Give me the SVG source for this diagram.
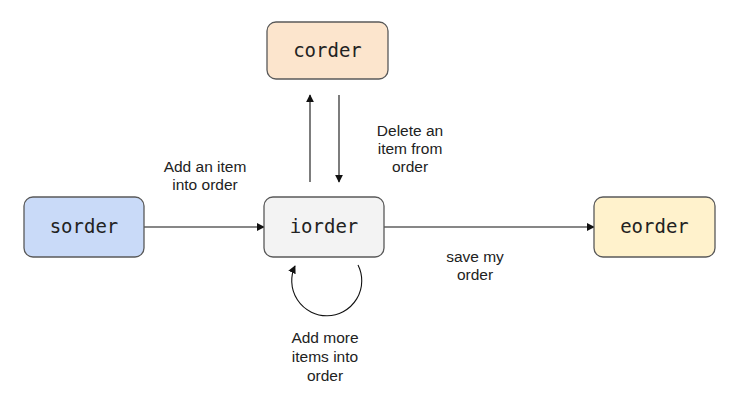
<svg xmlns="http://www.w3.org/2000/svg" width="742" height="420" viewBox="0 0 742 420">
<style>
.box{stroke:#595959;stroke-width:1.3}
.mono{font-family:"DejaVu Sans Mono","Liberation Mono",monospace;font-size:19px;fill:#222;text-anchor:middle}
.lbl{font-family:"Liberation Sans",Arial,sans-serif;font-size:15.5px;fill:#222;text-anchor:middle}
.edge{stroke:#111;stroke-width:1.1;fill:none;marker-end:url(#ah)}
</style>
<defs>
<marker id="ah" viewBox="0 0 10 10" refX="9" refY="5" markerWidth="8" markerHeight="8" markerUnits="userSpaceOnUse" orient="auto">
<path d="M0,0 L10,5 L0,10 z" fill="#111"/>
</marker>
</defs>
<rect width="742" height="420" fill="#fff"/>
<g id="connectors">
<line class="edge" x1="144" y1="227" x2="264" y2="227"/>
<line class="edge" x1="384" y1="227" x2="594" y2="227"/>
<line class="edge" x1="310" y1="182" x2="310" y2="95"/>
<line class="edge" x1="339" y1="95" x2="339" y2="182"/>
<path class="edge" d="M358,265 A35,35 0 1 1 295,266"/>
<text class="lbl" x="205" y="172">Add an item</text>
<text class="lbl" x="205" y="190">into order</text>
<text class="lbl" x="410" y="136">Delete an</text>
<text class="lbl" x="410" y="154">item from</text>
<text class="lbl" x="410" y="172">order</text>
<text class="lbl" x="475" y="262">save my</text>
<text class="lbl" x="475" y="280">order</text>
<text class="lbl" x="325" y="343">Add more</text>
<text class="lbl" x="325" y="362">items into</text>
<text class="lbl" x="325" y="381">order</text>
</g>
<g id="corder">
<rect class="box" x="267" y="22" width="121" height="57" rx="9" fill="#fce5cd"/>
<text class="mono" x="327.5" y="57">corder</text>
</g>
<g id="sorder">
<rect class="box" x="24" y="197" width="120" height="60" rx="9" fill="#c9daf8"/>
<text class="mono" x="84" y="233">sorder</text>
</g>
<g id="iorder">
<rect class="box" x="264" y="197" width="120" height="60" rx="9" fill="#f3f3f3"/>
<text class="mono" x="324" y="233">iorder</text>
</g>
<g id="eorder">
<rect class="box" x="594" y="197" width="121" height="60" rx="9" fill="#fff2cc"/>
<text class="mono" x="654.5" y="233">eorder</text>
</g>
</svg>
